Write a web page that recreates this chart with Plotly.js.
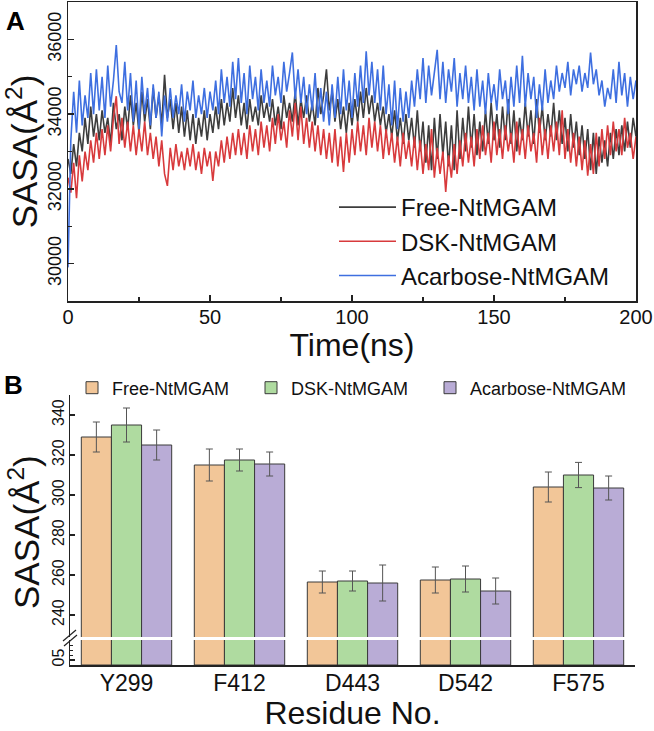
<!DOCTYPE html>
<html>
<head>
<meta charset="utf-8">
<script src="https://cdn.plot.ly/plotly-3.0.1.min.js"></script>
<style>
  html, body { margin: 0; padding: 0; background: #fff; }
  #graph-container { width: 654px; height: 731px; }
</style>
</head>
<body>
<div id="graph-container"></div>
<script>
// ---- Panel A: SASA over time, one value per ns (0..200 ns) ----
const timeStart = 0;
const timeStep = 1;

const freeSasa = [
  32800,
  32400, 33200, 32600, 33500, 33000, 33900, 33200, 34200, 33400, 34000,
  33300, 34100, 33500, 33900, 33200, 34300, 33600, 34000, 33300, 34200,
  33600, 34500, 33700, 34300, 33500, 34600, 33800, 34400, 33600, 34700,
  33900, 34500, 33700, 35050, 33900, 34400, 33600, 34300, 33500, 34200,
  33400, 34100, 33300, 34000, 33200, 33900, 33400, 34100, 33300, 34000,
  33500, 34200, 33600, 34400, 33700, 34300, 33800, 34700, 33900, 34500,
  33700, 34300, 33600, 34400, 33800, 34200, 33700, 34500, 33900, 34300,
  33800, 34400, 33700, 34200, 33600, 34500, 33900, 34300, 33800, 34600,
  33700, 34400, 33900, 34500, 33800, 34300, 33700, 34700, 34000, 34500,
  35200, 34100, 34600, 33800, 34400, 33600, 34200, 33500, 34300, 33700,
  34400, 33800, 34600, 33900, 34700, 34000, 34500, 33800, 34300, 33700,
  34200, 33500, 34000, 33400, 34100, 33300, 33900, 33200, 34000, 33300,
  33900, 33100, 34100, 33000, 33800, 32700, 33700, 32500, 33900, 32800,
  34000, 32900, 33800, 32600, 33700, 32500, 34100, 32800, 33900, 33000,
  34200, 33100, 34000, 32900, 33800, 33000, 34100, 33200, 34300, 33300,
  34000, 33100, 34200, 33300, 34400, 33200, 34100, 33000, 33900, 33300,
  34300, 33400, 34100, 33200, 34400, 33500, 34200, 33300, 34000, 33400,
  34300, 33300, 34100, 33200, 33900, 33000, 34000, 33100, 33800, 32900,
  33700, 32800, 33600, 32500, 33500, 32400, 33400, 32700, 33300, 32600,
  33500, 32800, 33600, 32900, 33700, 33000, 33800, 33100, 33900, 33400
];

const dskSasa = [
  32300,
  31900, 32700, 31750, 32900, 32200, 33000, 32500, 33300, 32700, 33500,
  32800, 33600, 32900, 33700, 33000, 33900, 34480, 33200, 33900, 33100,
  33800, 33000, 33700, 32900, 33600, 33000, 33800, 32900, 33500, 32800,
  33400, 32600, 33300, 32400, 32080, 33100, 32500, 33200, 32600, 33000,
  32500, 33100, 32600, 33200, 32500, 33000, 32400, 33100, 32600, 33000,
  32210, 33000, 32600, 33300, 32700, 33400, 32800, 33500, 32900, 33600,
  32900, 33500, 32800, 33700, 33000, 33600, 32900, 33800, 33100, 33700,
  33000, 33900, 33200, 34000, 33300, 33800, 33100, 34100, 33400, 34300,
  33300, 34200, 33200, 33900, 33100, 33800, 33000, 33700, 32900, 33600,
  32800, 33500, 32700, 33600, 32600, 33400, 32450, 33500, 32700, 33600,
  32900, 33800, 33000, 33700, 32900, 33900, 33100, 33800, 33000, 33700,
  32800, 33600, 32900, 33500, 32700, 33400, 32600, 33500, 32800, 33300,
  32600, 33400, 32500, 33300, 32400, 33200, 32500, 33600, 32300, 33100,
  32400, 33000, 31920, 32900, 32300, 33200, 32400, 33300, 32600, 33500,
  32700, 33400, 32600, 33600, 32800, 33700, 32900, 33500, 32700, 33800,
  32900, 33600, 32800, 33700, 33000, 33500, 32700, 33800, 32900, 33600,
  32800, 33700, 33000, 33500, 32700, 33900, 32900, 33600, 32800, 33700,
  33000, 33800, 32900, 34100, 32800, 33600, 32700, 33500, 32600, 33400,
  32500, 33300, 32350, 33200, 32400, 33500, 32600, 33600, 32800, 33700,
  32900, 33800, 33000, 33600, 32900, 33900, 33100, 33500, 32800, 33400
];

const acarboseSasa = [
  29900,
  33300, 34600, 33500, 34900, 33700, 34500, 33900, 35100, 34000, 35200,
  34100, 35000, 33900, 35300, 34200, 34900, 35850, 34600, 34300, 35400,
  34100, 35100, 33800, 34900, 33600, 35000, 34000, 34700, 33700, 34800,
  33900, 34600, 33400, 34500, 33800, 34700, 33900, 34500, 34000, 34800,
  33800, 34600, 34100, 34900, 33900, 34500, 34000, 34700, 33900, 34600,
  34100, 34900, 34000, 35200, 34300, 35000, 34200, 35400, 34400, 35500,
  34300, 35100, 34000, 35300, 34400, 35000, 34100, 35200, 34300, 34900,
  34200, 35300, 34500, 35000, 34300, 35400, 34600, 35100, 35650, 34400,
  35200, 34300, 35000, 34000, 34800, 34100, 35100, 33900, 34700, 33800,
  34600, 33700, 34800, 33900, 35000, 34000, 35200, 34100, 34900, 33900,
  35100, 34200, 35300, 34300, 35680, 34500, 35400, 34300, 35200, 34100,
  35300, 34000, 34800, 33700, 34900, 33600, 34700, 33800, 34600, 33900,
  34900, 34200, 35200, 34400, 35500, 34300, 35300, 34500, 35100, 35720,
  34400, 35400, 34300, 35200, 34600, 35500, 34200, 35100, 34400, 35300,
  34300, 35000, 34100, 35200, 34200, 34900, 34000, 35100, 34300, 34800,
  34100, 35200, 34400, 34900, 34000, 35000, 34200, 35300, 34300, 35560,
  34200, 35100, 34400, 35000, 33900, 34800, 34100, 35200, 34300, 34900,
  34400, 35300, 34600, 35100, 34700, 35400, 34500, 35200, 34800, 35300,
  34600, 35100, 34700, 35650, 34800, 35200, 34500, 34900, 34200, 34700,
  34400, 35200, 34300, 35400, 34500, 35100, 34200, 35000, 34400, 34900
];

// ---- Panel B: residue SASA (mean and error) ----
const residues = ['Y299', 'F412', 'D443', 'D542', 'F575'];
const freeRes = [329, 315, 256.5, 257.5, 304];
const freeResErr = [7.5, 8, 5.5, 6.5, 7.5];
const dskRes = [335, 317.5, 257, 258, 310];
const dskResErr = [8.5, 5.5, 5, 6.5, 6.3];
const acarboseRes = [325, 315.5, 256, 252, 303.5];
const acarboseResErr = [7.5, 6, 9, 6.5, 6];

const FONT = 'Liberation Sans, Arial, sans-serif';
const W = 654, H = 731;
// helpers to turn pixel positions into paper fractions
function px(x) { return x / W; }
function py(y) { return 1 - y / H; }

function lineTrace(name, values, color) {
    return {
        type: 'scatter', mode: 'lines', name: name,
        x0: timeStart, dx: timeStep, y: values,
        xaxis: 'x', yaxis: 'y',
        line: { color: color, width: 1.6 },
        legend: 'legend'
    };
}

function barTraces(name, values, errs, color, legendId) {
    // same bars drawn on the upper and lower part of the broken axis
    var base = {
        type: 'bar', name: name, x: residues, y: values,
        marker: { color: color, line: { color: '#3a3a3a', width: 1 } },
        xaxis: 'x2', legend: legendId, legendgroup: name
    };
    var upper = Object.assign({}, base, {
        yaxis: 'y2', showlegend: true,
        error_y: { type: 'data', array: errs, visible: true, color: '#555', thickness: 1, width: 3.5 }
    });
    var lower = Object.assign({}, base, { yaxis: 'y3', showlegend: false });
    return [upper, lower];
}

var data = [
    lineTrace('Free-NtMGAM', freeSasa, '#3d3d3d'),
    lineTrace('DSK-NtMGAM', dskSasa, '#d83a3c'),
    lineTrace('Acarbose-NtMGAM', acarboseSasa, '#3e6fe0')
].concat(
    barTraces('Free-NtMGAM', freeRes, freeResErr, '#f2c698', 'legend2'),
    barTraces('DSK-NtMGAM', dskRes, dskResErr, '#afdba0', 'legend3'),
    barTraces('Acarbose-NtMGAM', acarboseRes, acarboseResErr, '#b9acd6', 'legend4')
);

var axisLine = { showline: true, linecolor: '#222', linewidth: 1.5, showgrid: false, zeroline: false };

function barLegend(xPx) {
    return {
        x: px(xPx), y: py(388), xanchor: 'left', yanchor: 'middle',
        bgcolor: 'rgba(0,0,0,0)', borderwidth: 0, font: { size: 18 }
    };
}

var layout = {
    width: W, height: H,
    margin: { l: 0, r: 0, t: 0, b: 0 },
    paper_bgcolor: '#fff', plot_bgcolor: '#fff',
    font: { family: FONT, color: '#111' },
    barmode: 'group', bargap: 0.2, bargroupgap: 0,
    xaxis: Object.assign({}, axisLine, {
        domain: [px(68), px(636)], anchor: 'y', range: [0, 200],
        mirror: true, ticks: 'inside', ticklen: 6, tickwidth: 1.5, tickcolor: '#222',
        dtick: 50, tick0: 0, ticklabelstandoff: -3,
        minor: { dtick: 25, ticks: 'inside', ticklen: 4, tickwidth: 1.2, tickcolor: '#222' },
        tickfont: { size: 20 },
        title: { text: 'Time(ns)', font: { size: 32 }, standoff: 2 }
    }),
    yaxis: Object.assign({}, axisLine, {
        domain: [py(301), py(2)], anchor: 'x', range: [29000, 37000],
        mirror: true, ticks: 'inside', ticklen: 6, tickwidth: 1.5, tickcolor: '#222',
        tickvals: [30000, 32000, 34000, 36000], tickformat: 'd', tickangle: -90,
        ticklabelstandoff: -2,
        minor: { tickvals: [31000, 33000, 35000], ticks: 'inside', ticklen: 4, tickwidth: 1.2, tickcolor: '#222' },
        tickfont: { size: 18 },
        title: { text: 'SASA(Å<sup>2</sup>)', font: { size: 35 }, standoff: 8 }
    }),
    xaxis2: Object.assign({}, axisLine, {
        domain: [px(70), px(635)], anchor: 'y3', range: [-0.5, 4.5],
        ticks: '', tickfont: { size: 23 }, ticklabelstandoff: -3,
        title: { text: 'Residue No.', font: { size: 32 }, standoff: 3 }
    }),
    yaxis2: Object.assign({}, axisLine, {
        domain: [py(637), py(395)], anchor: 'x2', range: [229, 350],
        ticks: 'inside', ticklen: 5, tickwidth: 1.2, tickcolor: '#222',
        tickvals: [240, 260, 280, 300, 320, 340], tickangle: -90,
        ticklabelstandoff: -2,
        tickfont: { size: 16 }
    }),
    yaxis3: Object.assign({}, axisLine, {
        domain: [py(665), py(640)], anchor: 'x2', range: [0, 25],
        ticks: 'inside', ticklen: 5, tickwidth: 1.2, tickcolor: '#222',
        tickvals: [5], tickformat: '02d', tickangle: -90,
        ticklabelstandoff: -2,
        minor: { tickvals: [10, 15, 20], ticks: 'inside', ticklen: 3, tickwidth: 1, tickcolor: '#222' },
        tickfont: { size: 16 }
    }),
    legend: {
        x: px(334), y: py(185), xanchor: 'left', yanchor: 'top',
        bgcolor: 'rgba(0,0,0,0)', borderwidth: 0,
        font: { size: 24 }, itemwidth: 57, tracegroupgap: 0
    },
    legend2: barLegend(72),
    legend3: barLegend(251),
    legend4: barLegend(430),
    annotations: [
        { text: '<b>A</b>', xref: 'paper', yref: 'paper', x: px(4), y: py(4), xanchor: 'left', yanchor: 'top',
          showarrow: false, font: { size: 26, color: '#000' } },
        { text: '<b>B</b>', xref: 'paper', yref: 'paper', x: px(2), y: py(368), xanchor: 'left', yanchor: 'top',
          showarrow: false, font: { size: 26, color: '#000' } },
        // y title of panel B, centred over both parts of the broken axis
        { text: 'SASA(Å<sup>2</sup>)', xref: 'paper', yref: 'paper', x: px(24), y: py(532), textangle: -90,
          xanchor: 'center', yanchor: 'middle', showarrow: false, font: { size: 35, color: '#111' } }
    ],
    shapes: [
        // white gap of the broken axis and the two slashes on the y axis
        { type: 'rect', xref: 'paper', yref: 'paper', x0: px(70.5), x1: px(636), y0: py(640), y1: py(637),
          fillcolor: '#fff', line: { width: 0 }, layer: 'above' },
        { type: 'line', xref: 'paper', yref: 'paper', x0: px(63), y0: py(641), x1: px(76), y1: py(630),
          line: { color: '#222', width: 1.2 } },
        { type: 'line', xref: 'paper', yref: 'paper', x0: px(64), y0: py(646), x1: px(77), y1: py(635),
          line: { color: '#222', width: 1.2 } }
    ]
};

Plotly.newPlot('graph-container', data, layout, { staticPlot: true, displayModeBar: false });
</script>
</body>
</html>
